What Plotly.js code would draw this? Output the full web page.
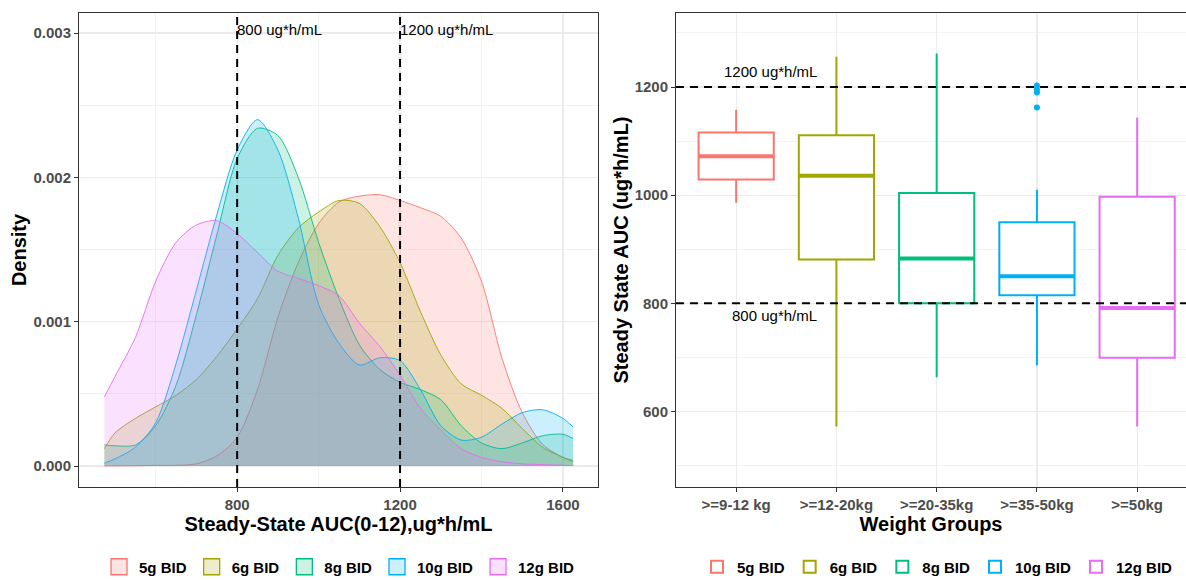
<!DOCTYPE html>
<html>
<head>
<meta charset="utf-8">
<script src="https://cdn.plot.ly/plotly-3.0.1.min.js"></script>
<style>
  html, body { margin: 0; padding: 0; background: #ffffff; overflow: hidden; }
  #chart { width: 1186px; height: 580px; }
</style>
</head>
<body>
<div id="chart"></div>
<script>
// Dose regimens and their colours
const doseNames = ['5g BID', '6g BID', '8g BID', '10g BID', '12g BID'];
const doseColors = ['#F8766D', '#A3A500', '#00BF7D', '#00B0F6', '#E76BF3'];

// Steady-state AUC grid (ug*h/mL) for the density curves
const aucGrid = [474, 500, 550, 600, 650, 700, 750, 800, 850, 900, 950, 1000, 1050,
                 1100, 1150, 1200, 1250, 1300, 1350, 1400, 1450, 1500, 1550, 1600, 1625];

// Kernel density estimates per dose
const dens5g  = [0.000000, 0.000001, 0.000002, 0.000004, 0.000005, 0.000015, 0.00007, 0.00020,
                 0.00053, 0.00103, 0.00141, 0.00168, 0.00183, 0.00187, 0.00188, 0.00184,
                 0.00179, 0.00173, 0.00158, 0.00128, 0.00075, 0.00037, 0.00015, 0.00006, 0.00004];
const dens6g  = [0.00012, 0.00023, 0.00033, 0.00041, 0.00049, 0.00060, 0.00076, 0.00095,
                 0.00116, 0.00146, 0.00165, 0.00176, 0.00184, 0.00182, 0.00166, 0.00141,
                 0.00107, 0.00077, 0.00057, 0.00049, 0.00040, 0.00026, 0.00013, 0.00006, 0.00003];
const dens8g  = [0.000146, 0.00014, 0.000146, 0.00028, 0.00056, 0.00105, 0.00160, 0.00213,
                 0.00234, 0.00229, 0.00200, 0.00155, 0.00116, 0.00084, 0.00067, 0.00058,
                 0.00053, 0.00046, 0.00028, 0.00016, 0.00012, 0.00016, 0.00021, 0.00022, 0.00019];
const dens10g = [0.00002, 0.00005, 0.00013, 0.00030, 0.00071, 0.00122, 0.00174, 0.00219,
                 0.00240, 0.00219, 0.00172, 0.00112, 0.00085, 0.00070, 0.00075, 0.00073,
                 0.00053, 0.00028, 0.00018, 0.00020, 0.00029, 0.00037, 0.00039, 0.00033, 0.00027];
const dens12g = [0.00048, 0.00062, 0.00089, 0.00128, 0.00155, 0.00167, 0.00170, 0.00161,
                 0.00148, 0.00135, 0.00130, 0.00125, 0.00118, 0.00099, 0.00083, 0.00063,
                 0.00040, 0.00025, 0.00012, 0.00006, 0.00003, 0.000015, 0.00001, 0.000005, 0.000003];
const densities = [dens5g, dens6g, dens8g, dens10g, dens12g];

// Target exposure window
const targetLow = 800;
const targetHigh = 1200;
const targetLabels = ['800 ug*h/mL', '1200 ug*h/mL'];

// Box plot summaries by weight group (one dose per group)
const weightGroups = ['>=9-12 kg', '>=12-20kg', '>=20-35kg', '>=35-50kg', '>=50kg'];
const boxLower  = [986, 572, 663, 685, 572];
const boxQ1     = [1029, 881, 800, 815, 699];
const boxMedian = [1072, 1036, 883, 850, 791];
const boxQ3     = [1116, 1111, 1004, 950, 997];
const boxUpper  = [1158, 1256, 1262, 1010, 1143];
const outliers10g = [1203, 1196, 1190, 1162];

const FONT = 'Liberation Sans, Arial, sans-serif';
const BOX_WIDTH = 0.75;

function rgba(hex, a) {
  const n = parseInt(hex.slice(1), 16);
  return 'rgba(' + ((n >> 16) & 255) + ',' + ((n >> 8) & 255) + ',' + (n & 255) + ',' + a + ')';
}

const traces = [];

// Density areas
densities.forEach((d, i) => {
  traces.push({
    type: 'scatter', mode: 'lines', x: aucGrid, y: d,
    xaxis: 'x', yaxis: 'y',
    fill: 'tozeroy', fillcolor: rgba(doseColors[i], 0.2),
    line: { color: doseColors[i], width: 0.9, shape: 'spline', smoothing: 0.8 },
    showlegend: false, hoverinfo: 'skip'
  });
});

// Legend keys for the density panel
doseNames.forEach((name, i) => {
  traces.push({
    type: 'scatter', mode: 'markers', x: [null], y: [null],
    xaxis: 'x', yaxis: 'y', name: name, legend: 'legend',
    marker: { symbol: 'square', size: 16, color: rgba(doseColors[i], 0.2),
              line: { color: doseColors[i], width: 1.3 } }
  });
});

// Box plots
weightGroups.forEach((g, i) => {
  traces.push({
    type: 'box', name: doseNames[i], legend: 'legend2',
    x: [i], q1: [boxQ1[i]], median: [boxMedian[i]], q3: [boxQ3[i]],
    lowerfence: [boxLower[i]], upperfence: [boxUpper[i]],
    xaxis: 'x2', yaxis: 'y2', width: BOX_WIDTH, whiskerwidth: 0,
    boxpoints: false, fillcolor: '#ffffff',
    line: { color: doseColors[i], width: 2 }, hoverinfo: 'skip'
  });
});

// Thick median bars
weightGroups.forEach((g, i) => {
  traces.push({
    type: 'scatter', mode: 'lines',
    x: [i - BOX_WIDTH / 2, i + BOX_WIDTH / 2], y: [boxMedian[i], boxMedian[i]],
    xaxis: 'x2', yaxis: 'y2', line: { color: doseColors[i], width: 4 },
    showlegend: false, hoverinfo: 'skip'
  });
});

// Outliers of the 10g BID group
traces.push({
  type: 'scatter', mode: 'markers',
  x: outliers10g.map(() => weightGroups.indexOf('>=35-50kg')), y: outliers10g,
  xaxis: 'x2', yaxis: 'y2', marker: { color: doseColors[3], size: 6 },
  showlegend: false, hoverinfo: 'skip'
});

const tickFont = { family: FONT, size: 15, color: '#4D4D4D', weight: 'bold' };
const titleFont = { family: FONT, size: 20, color: '#000000', weight: 'bold' };
const gridColor = '#EBEBEB';
const yDomain = [0.1603, 0.9776];

const commonAxis = {
  ticks: 'outside', ticklen: 4, tickcolor: '#333333', tickwidth: 1,
  showline: true, linecolor: '#333333', linewidth: 1,
  showgrid: true, gridcolor: gridColor, gridwidth: 1.2,
  zeroline: false, tickfont: tickFont
};

const dash = { color: '#000000', width: 2, dash: '8px,6px' };
const annFont = { family: FONT, size: 15, color: '#000000' };
const legendFont = { family: FONT, size: 15, color: '#000000', weight: 'bold' };

const layout = {
  width: 1186, height: 580,
  margin: { l: 0, r: 0, t: 0, b: 0, autoexpand: false },
  paper_bgcolor: '#ffffff', plot_bgcolor: '#ffffff',
  font: { family: FONT },
  boxmode: 'overlay',
  xaxis: Object.assign({}, commonAxis, {
    domain: [0.0666, 0.5042], range: [411.6, 1686], anchor: 'y',
    tick0: 0, dtick: 400, mirror: true,
    minor: { tick0: 0, dtick: 200, showgrid: true, gridcolor: gridColor, gridwidth: 0.6, ticks: '' },
    title: { text: 'Steady-State AUC(0-12),ug*h/mL', font: titleFont, standoff: 3 }
  }),
  yaxis: Object.assign({}, commonAxis, {
    domain: yDomain, range: [-0.0001455, 0.003139], anchor: 'x',
    tick0: 0, dtick: 0.001, tickformat: '.3f', mirror: true,
    minor: { tick0: 0, dtick: 0.0005, showgrid: true, gridcolor: gridColor, gridwidth: 0.6, ticks: '' },
    title: { text: 'Density', font: titleFont, standoff: 1 }
  }),
  xaxis2: Object.assign({}, commonAxis, {
    domain: [0.570, 1], range: [-0.6, 4.487], anchor: 'y2',
    tickmode: 'array', tickvals: weightGroups.map((g, i) => i), ticktext: weightGroups,
    mirror: true,
    title: { text: 'Weight Groups', font: titleFont, standoff: 3 }
  }),
  yaxis2: Object.assign({}, commonAxis, {
    domain: yDomain, range: [460, 1337], anchor: 'x2',
    tick0: 0, dtick: 200, mirror: false,
    minor: { tick0: 0, dtick: 100, showgrid: true, gridcolor: gridColor, gridwidth: 0.6, ticks: '' },
    title: { text: 'Steady State AUC (ug*h/mL)', font: titleFont, standoff: 0 }
  }),
  shapes: [
    { type: 'line', xref: 'x', yref: 'y domain', x0: targetLow, x1: targetLow, y0: 0, y1: 1, line: dash },
    { type: 'line', xref: 'x', yref: 'y domain', x0: targetHigh, x1: targetHigh, y0: 0, y1: 1, line: dash },
    { type: 'line', xref: 'x2 domain', yref: 'y2', x0: 0, x1: 1, y0: targetLow, y1: targetLow, line: dash },
    { type: 'line', xref: 'x2 domain', yref: 'y2', x0: 0, x1: 1, y0: targetHigh, y1: targetHigh, line: dash }
  ],
  annotations: [
    { xref: 'x', yref: 'y', x: targetLow, y: 0.003028, text: targetLabels[0], showarrow: false,
      xanchor: 'left', yanchor: 'middle', xshift: -2, font: annFont },
    { xref: 'x', yref: 'y', x: targetHigh, y: 0.003028, text: targetLabels[1], showarrow: false,
      xanchor: 'left', yanchor: 'middle', xshift: -2, font: annFont },
    { xref: 'x2', yref: 'y2', x: 0.384, y: 778, text: targetLabels[0], showarrow: false,
      xanchor: 'center', yanchor: 'middle', font: annFont },
    { xref: 'x2', yref: 'y2', x: 0.339, y: 1228, text: targetLabels[1], showarrow: false,
      xanchor: 'center', yanchor: 'middle', font: annFont }
  ],
  legend: {
    orientation: 'h', x: 99 / 1186, xanchor: 'left', y: 13 / 580, yanchor: 'middle',
    bgcolor: 'rgba(0,0,0,0)', font: legendFont, traceorder: 'normal'
  },
  legend2: {
    orientation: 'h', x: 697 / 1186, xanchor: 'left', y: 13 / 580, yanchor: 'middle',
    bgcolor: 'rgba(0,0,0,0)', font: legendFont, traceorder: 'normal'
  }
};

Plotly.newPlot('chart', traces, layout, { displayModeBar: false, staticPlot: true });
</script>
</body>
</html>
